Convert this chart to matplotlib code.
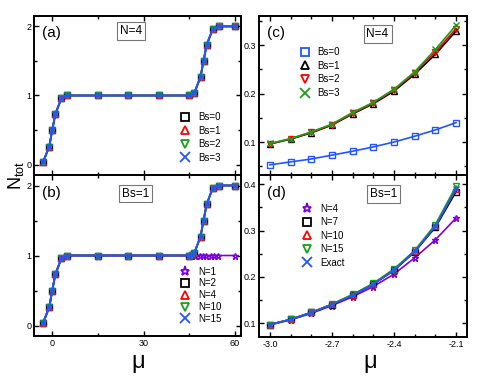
import matplotlib
matplotlib.use("Agg")
import matplotlib.pyplot as plt
from matplotlib.ticker import MultipleLocator, FixedLocator
from matplotlib.lines import Line2D

plt.rcParams['font.family'] = ['Liberation Sans', 'DejaVu Sans']
plt.rcParams['mathtext.fontset'] = 'custom'
plt.rcParams['mathtext.rm'] = 'Liberation Sans'
plt.rcParams['mathtext.it'] = 'Liberation Sans:italic'

# ---- data: panel (a) ----
mu_a = [-3, -1, 0, 1, 3, 5, 15, 25, 35, 45, 46.7, 48.7, 49.7, 50.7, 52.7, 54.7, 60]
ntot_a = [0.04, 0.26, 0.5, 0.73, 0.96, 1.0, 1.0, 1.0, 1.0, 1.0, 1.04, 1.27, 1.5, 1.73, 1.96, 2.0, 2.0]
labels_a = ["Bs=0", "Bs=1", "Bs=2", "Bs=3"]

# ---- data: panel (b) ----
mu_b = [-3, -1, 0, 1, 3, 5, 15, 25, 35, 45, 46, 46.7, 48.7, 49.7, 50.7, 52.7, 54.7, 60]
ntot_b = [0.04, 0.26, 0.5, 0.73, 0.96, 1.0, 1.0, 1.0, 1.0, 1.0, 1.01, 1.04, 1.27, 1.5, 1.73, 1.96, 2.0, 2.0]
mu_b1 = [-3, -1, 0, 1, 3, 5, 15, 25, 35, 45, 46, 47, 48.5, 49.5, 50.5, 52, 53, 54.5, 60]
ntot_b1 = [0.04, 0.26, 0.5, 0.73, 0.96, 1.0, 1.0, 1.0, 1.0, 1.0, 1.0, 1.0, 1.0, 1.0, 1.0, 1.0, 1.0, 1.0, 1.0]
labels_b = ["N=1", "N=2", "N=4", "N=10", "N=15"]

# ---- data: panel (c) ----
mu_c = [-3.0, -2.9, -2.8, -2.7, -2.6, -2.5, -2.4, -2.3, -2.2, -2.1]
c_bs0 = [0.053, 0.059, 0.065, 0.073, 0.081, 0.090, 0.100, 0.112, 0.125, 0.140]
c_bs1 = [0.096, 0.106, 0.119, 0.135, 0.158, 0.179, 0.205, 0.240, 0.281, 0.329]
c_bs2 = [0.096, 0.107, 0.120, 0.136, 0.159, 0.181, 0.207, 0.243, 0.286, 0.334]
c_bs3 = [0.097, 0.107, 0.121, 0.137, 0.161, 0.182, 0.209, 0.245, 0.291, 0.341]

# ---- data: panel (d) ----
d_n4 = [0.096, 0.107, 0.121, 0.138, 0.157, 0.179, 0.206, 0.241, 0.280, 0.327]
d_n7 = [0.097, 0.108, 0.123, 0.140, 0.160, 0.184, 0.214, 0.254, 0.307, 0.384]
d_n10 = [0.097, 0.108, 0.123, 0.141, 0.161, 0.185, 0.215, 0.255, 0.310, 0.390]
d_n15 = [0.097, 0.108, 0.123, 0.141, 0.162, 0.186, 0.217, 0.257, 0.313, 0.396]
d_exact = [0.097, 0.108, 0.123, 0.140, 0.160, 0.184, 0.215, 0.255, 0.309, 0.390]

BLACK, RED, GREEN, BLUE, PURPLE = 'black', '#ff0000', '#1a9e1a', '#2255ff', '#7f00dd'

fig = plt.figure(figsize=(4.91, 3.82), dpi=100)
W, H = 491, 382
def ax_at(x0, y0, x1, y1):
    return fig.add_axes([x0 / W, 1 - y1 / H, (x1 - x0) / W, (y1 - y0) / H])

axa = ax_at(34, 16, 241, 175)
axb = ax_at(34, 175, 241, 336)
axc = ax_at(259, 16, 467, 175)
axd = ax_at(259, 175, 467, 337)

def style(ax):
    for s in ax.spines.values():
        s.set_linewidth(1.4)
    ax.tick_params(which='both', direction='in', top=True, right=True, labelsize=6.5, width=1.0, pad=2)
    ax.tick_params(which='major', length=3.5)
    ax.tick_params(which='minor', length=2.5)

ms = 4.5
mew = 1.0

def series(ax, x, y, color, marker, label, lw=1.2, size=ms, z=2):
    ax.plot(x, y, color=color, lw=lw, marker=marker, ms=size, mfc='none', mec=color, mew=mew, label=label, zorder=z)

# (a)
markers4 = ['s', '^', 'v', 'x']
cols_a = [BLACK, RED, GREEN, BLUE]
for i, (lab, c, m) in enumerate(zip(labels_a, cols_a, markers4)):
    series(axa, mu_a, ntot_a, c, m, lab, lw=1.5 if c == BLUE else 1.2, size=5 if m == 'x' else ms, z=2 + i)
# (b)
series(axb, mu_b1, ntot_b1, PURPLE, '*', labels_b[0], lw=1.2, size=5, z=2)
for i, (lab, c, m) in enumerate(zip(labels_b[1:], cols_a, markers4)):
    series(axb, mu_b, ntot_b, c, m, lab, lw=1.5 if c == BLUE else 1.2, size=5 if m == 'x' else ms, z=3 + i)

for ax in (axa, axb):
    ax.set_xlim(-6, 62)
    ax.set_ylim(-0.15, 2.15)
    ax.xaxis.set_major_locator(FixedLocator([0, 30, 60]))
    ax.xaxis.set_minor_locator(FixedLocator([15, 45]))
    ax.yaxis.set_major_locator(FixedLocator([0, 1, 2]))
    ax.yaxis.set_minor_locator(FixedLocator([0.5, 1.5]))
    ax.set_yticklabels(['0', '1', '2'])
    style(ax)
axa.set_xticklabels([])
axb.set_xticklabels(['0', '30', '60'])

# (c)
series(axc, mu_c, c_bs0, BLUE, 's', "Bs=0", z=2)
series(axc, mu_c, c_bs1, BLACK, '^', "Bs=1", z=3)
series(axc, mu_c, c_bs2, RED, 'v', "Bs=2", z=4)
series(axc, mu_c, c_bs3, GREEN, 'x', "Bs=3", z=5, size=5)
# (d)
series(axd, mu_c, d_n4, PURPLE, '*', "N=4", z=2, size=5)
series(axd, mu_c, d_n7, BLACK, 's', "N=7", z=3)
series(axd, mu_c, d_n10, RED, '^', "N=10", z=4)
series(axd, mu_c, d_n15, GREEN, 'v', "N=15", z=5)
series(axd, mu_c, d_exact, BLUE, 'x', "Exact", z=6, size=5)

for ax in (axc, axd):
    ax.set_xlim(-3.053, -2.047)
    ax.xaxis.set_major_locator(FixedLocator([-3.0, -2.7, -2.4, -2.1]))
    ax.xaxis.set_minor_locator(MultipleLocator(0.1))
    ax.yaxis.set_minor_locator(MultipleLocator(0.05))
    style(ax)
axc.set_ylim(0.032, 0.36)
axc.yaxis.set_major_locator(FixedLocator([0.1, 0.2, 0.3]))
axc.set_yticklabels(['0.1', '0.2', '0.3'])
axc.set_xticklabels([])
axd.set_ylim(0.07, 0.42)
axd.yaxis.set_major_locator(FixedLocator([0.1, 0.2, 0.3, 0.4]))
axd.set_yticklabels(['0.1', '0.2', '0.3', '0.4'])
axd.set_xticklabels(['-3.0', '-2.7', '-2.4', '-2.1'])

# panel letters and boxed labels
box = dict(boxstyle='square,pad=0.25', fc='white', ec='#777777', lw=0.8)
for ax, letter, txt, bx, by in [(axa, '(a)', 'N=4', 0.47, 0.905), (axb, '(b)', 'Bs=1', 0.49, 0.885),
                                (axc, '(c)', 'N=4', 0.57, 0.885), (axd, '(d)', 'Bs=1', 0.60, 0.885)]:
    ax.text(0.04, 0.89, letter, transform=ax.transAxes, fontsize=11, ha='left', va='center')
    ax.text(bx, by, txt, transform=ax.transAxes, fontsize=8.5, ha='center', va='center', bbox=box)

def legend(ax, loc, anchor, spacing):
    h, l = ax.get_legend_handles_labels()
    hh = [Line2D([], [], ls='none', marker=x.get_marker(), ms=x.get_markersize(), mfc='none',
                 mec=x.get_color(), mew=1.3) for x in h]
    ax.legend(hh, l, loc=loc, bbox_to_anchor=anchor, bbox_transform=ax.transAxes,
              frameon=False, numpoints=1, handlelength=1.0, handletextpad=0.8, fontsize=7,
              labelspacing=spacing, borderaxespad=0.2, markerscale=1.3)

legend(axa, 'lower left', (0.68, 0.04), 0.37)
legend(axb, 'lower left', (0.68, 0.04), 0.18)
legend(axc, 'upper left', (0.17, 0.84), 0.37)
legend(axd, 'upper left', (0.18, 0.86), 0.37)

fig.text(0.032, 0.54, r'N$_{\mathregular{tot}}$', rotation=90, fontsize=13, ha='center', va='center')
fig.text(138 / W, 1 - 362 / H, 'μ', fontsize=17, ha='center', va='center')
fig.text(370 / W, 1 - 362 / H, 'μ', fontsize=17, ha='center', va='center')

fig.savefig('out.png', dpi=100)
